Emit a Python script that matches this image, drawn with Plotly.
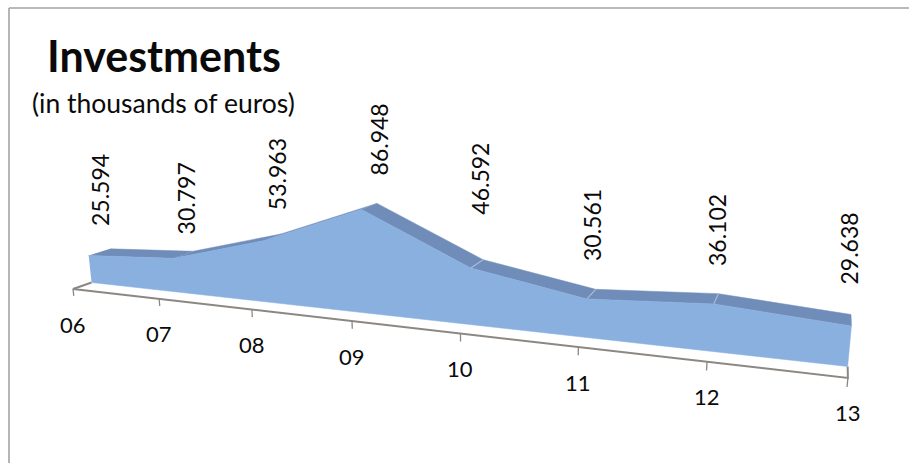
import plotly.graph_objects as go

# ---- data ----
categories = ["06", "07", "08", "09", "10", "11", "12", "13"]
investments = [25.594, 30.797, 53.963, 86.948, 46.592, 30.561, 36.102, 29.638]

# ---- label nudges relative to the back edge of the surface (layout only) ----
label_dx = [-10, -7, -4, 2, -3, -3, -2, -3]
label_dy = [-59, -53, -60, -64, -81, -64, -64, -66]

# ---- perspective camera (homogeneous basis vectors in page space) ----
ORIGIN = (73.0, 289.0, 1.0)
U = (80.43, -0.786 * 1.0, -0.0357)      # per category step
DEPTH = (840.0, 20.0, 1.0)              # depth vanishing point
HEIGHT = (-0.141, -1.15, -0.0002825)    # per unit of value
FRONT = 0.0248                          # depth of the front face of the area
BACK = FRONT + 0.030                    # depth of the back edge of the area


def project(u, depth, value):
    X = ORIGIN[0] + u * U[0] + depth * DEPTH[0] + value * HEIGHT[0]
    Y = ORIGIN[1] + u * U[1] + depth * DEPTH[1] + value * HEIGHT[1]
    W = ORIGIN[2] + u * U[2] + depth * DEPTH[2] + value * HEIGHT[2]
    return X / W, Y / W


FRONT_COLOR = "#8AB0E0"
TOP_COLOR = "#6F8DB8"
AXIS_COLOR = "#8C8782"
SEPARATOR = "#A6BBDA"
TEXT_COLOR = "#0A0A0A"
FONT = "Lato, 'Open Sans', sans-serif"
n = len(categories)
fig = go.Figure()


def polygon(points, color):
    fig.add_trace(go.Scatter(x=[p[0] for p in points], y=[p[1] for p in points],
                             mode="lines", fill="toself", fillcolor=color,
                             line=dict(width=0.5, color=color), hoverinfo="skip",
                             showlegend=False))


def line(points, color, width):
    fig.add_trace(go.Scatter(x=[p[0] for p in points], y=[p[1] for p in points],
                             mode="lines", line=dict(width=width, color=color),
                             hoverinfo="skip", showlegend=False))


# floor axis
line([project(0, FRONT, 0), project(0, 0, 0), project(n - 1, 0, 0), project(n - 1, FRONT, 0)],
     AXIS_COLOR, 2)
for i in range(n):
    line([project(i, 0, 0), project(i, 0, -6.5)], AXIS_COLOR, 1.3)

# top surface
for i in range(n - 1):
    polygon([project(i, FRONT, investments[i]), project(i + 1, FRONT, investments[i + 1]),
             project(i + 1, BACK, investments[i + 1]), project(i, BACK, investments[i])], TOP_COLOR)
for i in [4, 5, 6]:
    line([project(i, FRONT, investments[i]), project(i, BACK, investments[i])], SEPARATOR, 1.2)

# front face
front = [project(i, FRONT, 0) for i in range(n)]
front += [project(i, FRONT, investments[i]) for i in reversed(range(n))]
polygon(front, FRONT_COLOR)

annotations = []
for i, cat in enumerate(categories):
    x, y = project(i, 0, 0)
    annotations.append(dict(x=x, y=y, yshift=-35, text=cat, showarrow=False,
                            xanchor="center", yanchor="middle",
                            font=dict(family=FONT, size=22, color=TEXT_COLOR)))
    bx, by = project(i, BACK, investments[i])
    annotations.append(dict(x=bx, y=by, xshift=label_dx[i], yshift=-label_dy[i],
                            text=f"{investments[i]:.3f}", textangle=-90, showarrow=False,
                            xanchor="center", yanchor="middle",
                            font=dict(family=FONT, size=23, color=TEXT_COLOR)))

annotations.append(dict(x=164, y=55, text="<b>Investments</b>", showarrow=False,
                        xanchor="center", yanchor="middle",
                        font=dict(family=FONT, size=43, color=TEXT_COLOR)))
annotations.append(dict(x=163, y=103, text="(in thousands of euros)", showarrow=False,
                        xanchor="center", yanchor="middle",
                        font=dict(family=FONT, size=26.5, color=TEXT_COLOR)))

frame = dict(color="#A3A3A3", width=1.6)
shapes = [
    dict(type="line", x0=9, x1=9, y0=8, y1=463, line=frame),
    dict(type="line", x0=9, x1=909, y0=8, y1=8, line=frame),
]

fig.update_layout(
    width=909, height=463, margin=dict(l=0, r=0, t=0, b=0),
    paper_bgcolor="white", plot_bgcolor="white", showlegend=False,
    xaxis=dict(range=[0, 909], visible=False, fixedrange=True),
    yaxis=dict(range=[463, 0], visible=False, fixedrange=True),
    annotations=annotations, shapes=shapes,
)

fig.write_html("out.html", config={"displayModeBar": False},
               post_script="document.body.style.margin='0';")
